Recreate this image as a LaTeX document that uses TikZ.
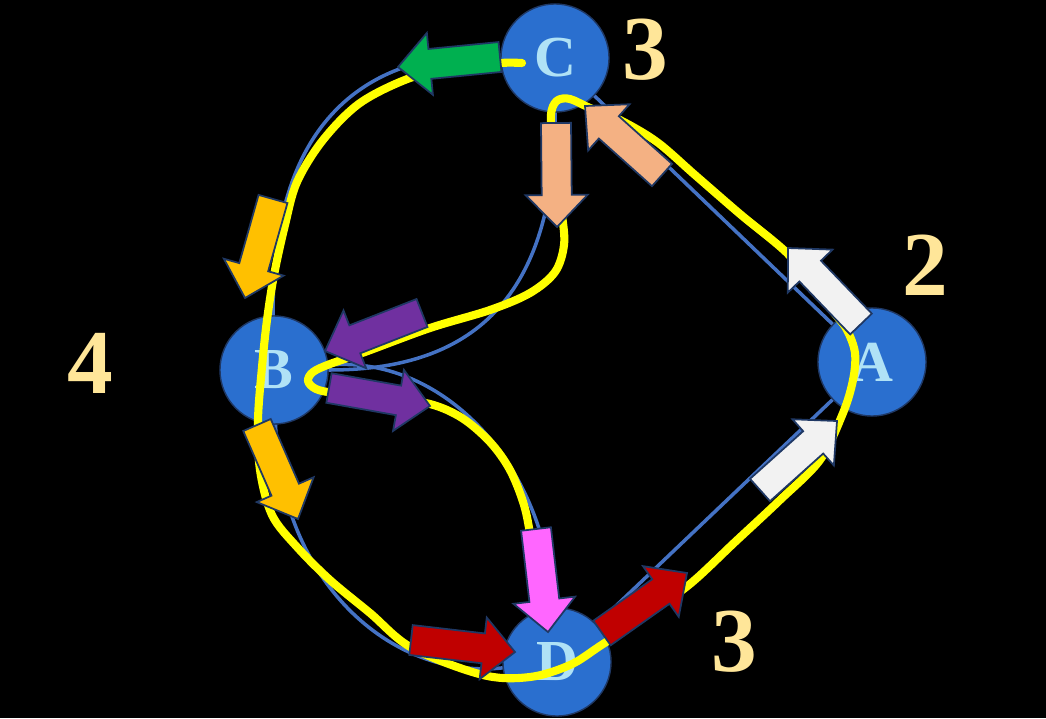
\documentclass[tikz,border=0pt]{standalone}
\usepackage{fontspec}
\setmainfont{Liberation Serif}
\usetikzlibrary{calc}

\definecolor{nodeblue}{HTML}{2A6FCF}
\definecolor{edgeblue}{HTML}{4472C4}
\definecolor{labelblue}{HTML}{B0E2F6}
\definecolor{degcol}{HTML}{FFE699}
\definecolor{trailyellow}{HTML}{FFFF00}
\definecolor{outline}{HTML}{1F3864}
\definecolor{arrgreen}{HTML}{00B050}
\definecolor{arrsalmon}{HTML}{F4B183}
\definecolor{arrwhite}{HTML}{F2F2F2}
\definecolor{arrred}{HTML}{C00000}
\definecolor{arrpink}{HTML}{FF66FF}
\definecolor{arrorange}{HTML}{FFC000}
\definecolor{arrpurple}{HTML}{7030A0}

\tikzset{
  vertex/.style={circle, minimum size=1.08cm, inner sep=0pt, fill=nodeblue, draw=outline,
    line width=0.4pt, text=labelblue, font=\fontsize{16.5}{18}\selectfont\bfseries},
  degree/.style={text=degcol, font=\fontsize{26}{30}\selectfont\bfseries},
  edge/.style={draw=edgeblue, line width=1pt},
  trail/.style={draw=trailyellow, line width=2.3pt, line cap=round, line join=round},
  arrowline/.style={draw=outline, line width=0.5pt, line join=miter},
}

% block arrow: fill colour, tail, tip
\newcommand{\flowarrow}[3]{%
  \coordinate (hb) at ($(#3)!0.32cm!(#2)$);
  \filldraw[arrowline, fill=#1] ($(#2)!0.15cm!90:(#3)$) -- ($(hb)!0.15cm!90:(#3)$)
    -- ($(hb)!0.31cm!90:(#3)$) -- (#3) -- ($(hb)!0.31cm!-90:(#3)$)
    -- ($(hb)!0.15cm!-90:(#3)$) -- ($(#2)!0.15cm!-90:(#3)$) -- cycle;
}

\begin{document}
\begin{tikzpicture}[x=0.01cm, y=-0.01cm]
    % Background
    \fill[black] (0,0) rectangle (1046,718);
    \useasboundingbox (0,0) rectangle (1046,718);

    % Vertices
    \node[vertex] (C) at (555,58) {C};
    \node[vertex] (B) at (274,370) {B};
    \node[vertex] (A) at (872,362) {A};
    \node[vertex] (D) at (557,662) {D};

    % Degrees
    \node[degree] (degC) at (645,50) {3};
    \node[degree] (degA) at (925,265) {2};
    \node[degree] (degB) at (90,363) {4};
    \node[degree] (degD) at (734,642) {3};

    % Edges
    \draw[edge] (C) -- (A);
    \draw[edge] (A) -- (D);
    \draw[edge] (C) .. controls (400,50) and (270,90) .. (B);
    \draw[edge] (C) .. controls (556,320) and (450,370) .. (B);
    \draw[edge] (B) .. controls (440,355) and (545,460) .. (D);
    \draw[edge] (B) .. controls (280,580) and (390,680) .. (D);

    % Euler trail
    \draw[trail] plot[smooth, tension=0.55] coordinates {
      (522,63) (500,63) (455,68) (410,78) (360,103) (323,140) (297,182) (285,225)
      (274,275) (267,320) (262,367) (258,420) (260,470) (272,515) (297,547)
      (330,580) (370,613) (412,648) (483,675) (530,677) (570,665) (600,646)
      (645,616) (690,584) (735,542) (780,500) (820,460) (843,413) (853,380)
      (855,353) (847,330) (835,314) (810,283) (787,253) (740,214) (695,175)
      (657,142) (620,120) (590,108) (570,99) (558,100) (552,109) (551,125)
      (555,170) (562,215) (564,245) (555,272) (530,293) (490,310) (430,328)
      (365,352) (330,364) (313,372) (308,381) (316,389) (335,393) (385,398)
      (430,404) (462,418) (490,442) (510,470) (524,505) (531,540) (538,590)};

    % Arrows along the trail
    \flowarrow{arrgreen}{500,57}{398,67}
    \flowarrow{arrorange}{273,199}{245,298}
    \flowarrow{arrorange}{257,425}{298,519}
    \flowarrow{arrred}{411,640}{515,652}
    \flowarrow{arrred}{602,633}{687,573}
    \flowarrow{arrwhite}{760,490}{837,421}
    \flowarrow{arrwhite}{861,324}{788,248}
    \flowarrow{arrsalmon}{662,175}{585,106}
    \flowarrow{arrsalmon}{556,123}{557,227}
    \flowarrow{arrpurple}{422,313}{325,351}
    \flowarrow{arrpurple}{329,388}{430,406}
    \flowarrow{arrpink}{536,529}{548,632}
\end{tikzpicture}
\end{document}
